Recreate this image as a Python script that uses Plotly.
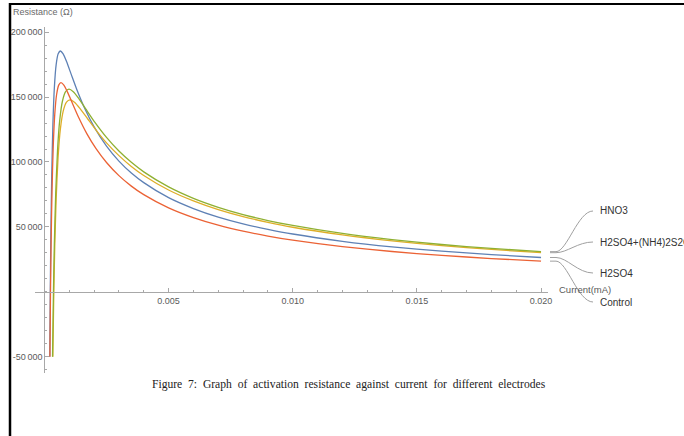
import plotly.graph_objects as go

# ---- data: current (mA) vs activation resistance (Ohm) ----
head_current_h2so4 = [0.000215, 0.0002354, 0.0002589, 0.0002943, 0.0003413, 0.0004002, 0.0004708,
                      0.0005532, 0.0006403, 0.0007533, 0.0008945, 0.0010828, 0.0013182, 0.0016478, 0.0020009]
head_current_control = [0.0002206, 0.0002446, 0.0002691, 0.0003058, 0.0003547, 0.0004158, 0.0004892,
                        0.0005748, 0.0006653, 0.0007827, 0.0009295, 0.0011252, 0.0013698, 0.0017122, 0.0020791]
head_current_hno3 = [0.0003266, 0.0003631, 0.0003994, 0.0004539, 0.0005265, 0.0006173, 0.0007262,
                     0.0008533, 0.0009876, 0.0011619, 0.0013798, 0.0016703, 0.0020334]
head_current_mix = [0.0003381, 0.0003779, 0.0004157, 0.0004724, 0.0005480, 0.0006424, 0.0007558,
                    0.0008881, 0.0010279, 0.0012093, 0.0014360, 0.0017383, 0.0021162]
tail_current = [0.0025, 0.003, 0.0035, 0.004, 0.005, 0.006, 0.007, 0.008, 0.009, 0.010,
                0.012, 0.014, 0.016, 0.018, 0.020]

resist_h2so4 = [-50000, 0, 43700, 90000, 129200, 157400, 174800, 183300, 185500, 183300, 177200,
                167300, 155100, 140200, 127000,
                112200, 100700, 91500, 84100, 72500, 64100, 57500, 52300, 48100, 44500,
                38900, 34600, 31300, 28600, 26400]
resist_mix = [-50000, 0, 34800, 71700, 103000, 125400, 139200, 146100, 147800, 146000, 141100,
              133300, 123600,
              114700, 104900, 96600, 89600, 78400, 70000, 63300, 57900, 53500, 49700,
              43800, 39200, 35500, 32600, 30100]
resist_hno3 = [-50000, 0, 36800, 75700, 108700, 132400, 147000, 154200, 156100, 154200, 149000,
               140700, 130500,
               118900, 108400, 99700, 92400, 80800, 72000, 65100, 59500, 54900, 51100,
               44900, 40200, 36400, 33400, 30900]
resist_control = [-50000, 0, 37900, 78200, 112200, 136700, 151800, 159200, 161100, 159200, 153800,
                  145300, 134700, 121700, 110300,
                  99600, 89500, 81400, 74800, 64600, 57100, 51300, 46700, 42900, 39700,
                  34800, 31000, 28000, 25600, 23600]

names = ["H2SO4", "H2SO4+(NH4)2S2O8", "HNO3", "Control"]
colors = ["#5E81B5", "#DEAE28", "#8FB032", "#EB6235"]
currents = [head_current_h2so4 + tail_current, head_current_mix + tail_current,
            head_current_hno3 + tail_current, head_current_control + tail_current]
resists = [resist_h2so4, resist_mix, resist_hno3, resist_control]

x_ticks = [0.005, 0.010, 0.015, 0.020]
x_tick_text = ["0.005", "0.010", "0.015", "0.020"]
y_ticks = [-50000, 50000, 100000, 150000, 200000]
y_tick_text = ["-50\u2009000", "50\u2009000", "100\u2009000", "150\u2009000", "200\u2009000"]

# ---- geometry ----
W, H = 684, 436
ML, MR, MT, MB = 35, 136, 27, 63
PW, PH = W - ML - MR, H - MT - MB
X0, X1 = -0.00038, 0.02028
Y0, Y1 = -62600, 204000


def px(x):
    return (x - ML) / PW


def py(y):
    return (H - MB - y) / PH


def value_to_pixel_y(v):
    return MT + (Y1 - v) / (Y1 - Y0) * PH


fig = go.Figure()
for name, color, xs, ys in zip(names, colors, currents, resists):
    fig.add_trace(go.Scatter(x=xs, y=ys, mode="lines", name=name,
                             line=dict(color=color, width=1.3, shape="spline", smoothing=0.6),
                             hoverinfo="skip"))

axis_color = "#a8a8a8"
tick_font = dict(family="Liberation Sans, Arial, sans-serif", size=9, color="#5a5a5a")

fig.update_layout(
    width=W, height=H,
    margin=dict(l=ML, r=MR, t=MT, b=MB, pad=0),
    paper_bgcolor="white", plot_bgcolor="white",
    showlegend=False,
    font=dict(family="Liberation Sans, Arial, sans-serif"),
    xaxis=dict(range=[X0, X1], anchor="free", position=(0 - Y0) / (Y1 - Y0),
               showline=True, linecolor=axis_color, linewidth=1,
               showgrid=False, zeroline=False,
               ticks="inside", ticklen=4, tickcolor=axis_color, tickwidth=1,
               tickmode="array", tickvals=x_ticks, ticktext=x_tick_text, tickfont=tick_font,
               minor=dict(ticks="inside", ticklen=2, tickcolor=axis_color, dtick=0.001, tick0=0),
               automargin=False),
    yaxis=dict(range=[Y0, Y1], anchor="free", position=(0 - X0) / (X1 - X0),
               showline=True, linecolor=axis_color, linewidth=1,
               showgrid=False, zeroline=False,
               ticks="inside", ticklen=4, tickcolor=axis_color, tickwidth=1,
               tickmode="array", tickvals=y_ticks, ticktext=y_tick_text, tickfont=tick_font,
               minor=dict(ticks="inside", ticklen=2, tickcolor=axis_color, dtick=10000, tick0=0),
               automargin=False),
)

# axis titles
fig.add_annotation(text="Resistance (\u03a9)", xref="paper", yref="paper", x=px(43), y=py(12),
                   xanchor="center", yanchor="middle", showarrow=False,
                   font=dict(size=9, color="#6a6a6a"))
fig.add_annotation(text="Current(mA)", xref="paper", yref="paper", x=px(557), y=py(289),
                   xanchor="left", yanchor="middle", showarrow=False,
                   font=dict(size=9.5, color="#5a5a5a"))

# callout labels with leader lines
label_y = {"HNO3": 211, "H2SO4+(NH4)2S2O8": 242, "H2SO4": 273, "Control": 302}
for name, ys in zip(names, resists):
    ye = value_to_pixel_y(ys[-1])
    yl = label_y[name]
    path = (f"M {px(550)},{py(ye)} L {px(556)},{py(ye)} "
            f"C {px(567)},{py(ye)} {px(578)},{py(yl)} {px(593)},{py(yl)}")
    fig.add_shape(type="path", path=path, xref="paper", yref="paper",
                  line=dict(color="#a0a0a0", width=1))
    fig.add_annotation(text=name, xref="paper", yref="paper", x=px(598), y=py(yl),
                       xanchor="left", yanchor="middle", showarrow=False,
                       font=dict(size=10, color="#333333"))

# caption
fig.add_annotation(text="Figure  7:  Graph  of  activation  resistance  against  current  for  different  electrodes",
                   xref="paper", yref="paper", x=px(150), y=py(384),
                   xanchor="left", yanchor="middle", showarrow=False,
                   font=dict(family="Liberation Serif, Times New Roman, serif", size=11.6, color="#222222"))

# page frame
fig.add_shape(type="line", xref="paper", yref="paper", x0=px(10), x1=px(10), y0=py(3), y1=py(H + 5),
              line=dict(color="black", width=2.5))
fig.add_shape(type="line", xref="paper", yref="paper", x0=px(9), x1=px(W + 5), y0=py(4), y1=py(4),
              line=dict(color="black", width=2))

fig.write_html("out.html")
